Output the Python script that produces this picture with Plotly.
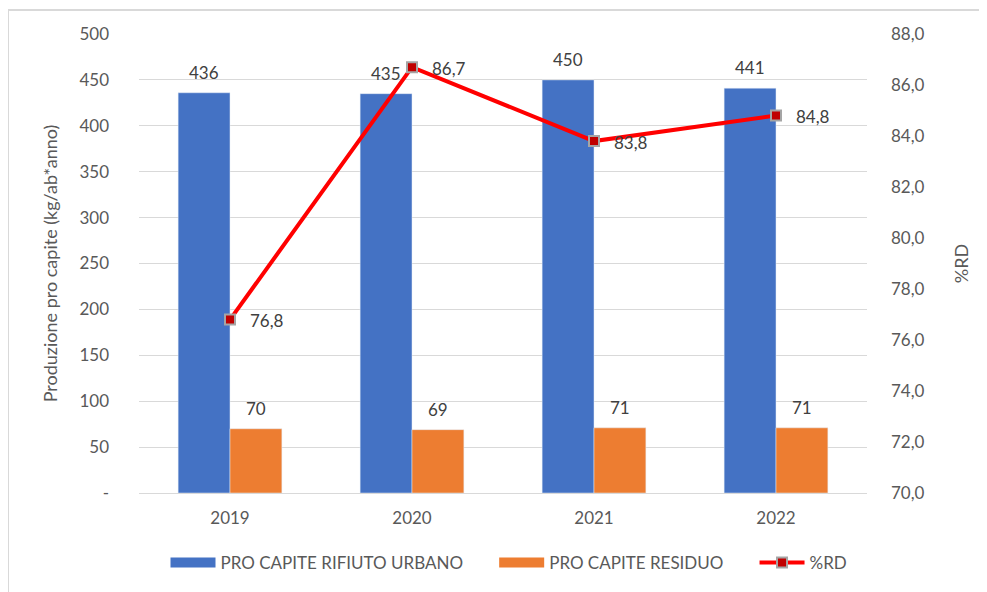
import plotly.graph_objects as go

anni = ['2019', '2020', '2021', '2022']
rifiuto_urbano = [436, 435, 450, 441]
residuo = [70, 69, 71, 71]
perc_rd = [76.8, 86.7, 83.8, 84.8]

tick_sx = [0, 50, 100, 150, 200, 250, 300, 350, 400, 450, 500]
tick_sx_testo = ['-', '50', '100', '150', '200', '250', '300', '350', '400', '450', '500']

GRIGIO_TESTO = '#595959'
FONT = 'Lato, Open Sans, sans-serif'
BLU, ARANCIO, ROSSO = '#4472C4', '#ED7D31', '#FF0000'
NBSP = '\u00a0' * 6  # spazio extra tra le voci di legenda

# la pagina ha 8px di margine nel body: li tolgo da sinistra/alto
ML, MT, PW, PH = 131, 26, 728, 459

fig = go.Figure()

fig.add_trace(go.Bar(x=anni, y=rifiuto_urbano, name='PRO CAPITE RIFIUTO URBANO',
                     marker=dict(color=BLU), showlegend=False))
fig.add_trace(go.Bar(x=anni, y=residuo, name='PRO CAPITE RESIDUO',
                     marker=dict(color=ARANCIO), showlegend=False))

# voci di legenda "a rettangolo" come in Excel
fig.add_trace(go.Scatter(x=[anni[0]], y=[None], mode='lines',
                         name='PRO CAPITE RIFIUTO URBANO' + NBSP,
                         line=dict(color=BLU, width=10)))
fig.add_trace(go.Scatter(x=[anni[0]], y=[None], mode='lines',
                         name='PRO CAPITE RESIDUO' + NBSP,
                         line=dict(color=ARANCIO, width=10)))

fig.add_trace(go.Scatter(
    x=anni, y=perc_rd, name='%RD', yaxis='y2',
    mode='lines+markers',
    line=dict(color=ROSSO, width=4),
    marker=dict(symbol='square', size=10, color='#C00000',
                line=dict(color='#A5A5A5', width=2)),
))

# etichette: x come indice di categoria (le stringhe "2019" verrebbero lette come numeri)
annotazioni = []
for i, v in enumerate(rifiuto_urbano):
    annotazioni.append(dict(x=i, y=v, text=str(v), showarrow=False, xshift=-26,
                            yanchor='bottom', yshift=8,
                            font=dict(size=17, color='#404040')))
for i, v in enumerate(residuo):
    annotazioni.append(dict(x=i, y=v, text=str(v), showarrow=False, xshift=26,
                            yanchor='bottom', yshift=8,
                            font=dict(size=17, color='#404040')))
for i, v in enumerate(perc_rd):
    annotazioni.append(dict(x=i, y=v, yref='y2', text=f'{v:.1f}'.replace('.', ','),
                            showarrow=False, xanchor='left', xshift=18, yshift=-1,
                            font=dict(size=17, color='#404040')))

fig.update_layout(
    width=987, height=592,
    paper_bgcolor='white', plot_bgcolor='white',
    font=dict(family=FONT, size=17, color=GRIGIO_TESTO),
    separators=',.',
    barmode='group', bargap=0.43, bargroupgap=0,
    margin=dict(l=ML, r=987 - ML - PW, t=MT, b=592 - MT - PH, autoexpand=False),
    showlegend=True,
    legend=dict(orientation='h', x=0.5 + 6 / PW, xanchor='center', y=-(555 - MT - PH) / PH,
                yanchor='middle', font=dict(size=17, color=GRIGIO_TESTO),
                traceorder='normal', itemwidth=45),
    annotations=annotazioni,
    xaxis=dict(type='category', categoryorder='array', categoryarray=anni,
               range=[-0.5, len(anni) - 0.5],
               showgrid=False, showline=True, linecolor='#D9D9D9', linewidth=1,
               ticks='', tickfont=dict(size=17, color=GRIGIO_TESTO),
               ticklabelstandoff=10, automargin=False),
    yaxis=dict(range=[0, 500], tickvals=tick_sx, ticktext=tick_sx_testo,
               showgrid=True, gridcolor='#D9D9D9', gridwidth=1, zeroline=False,
               tickfont=dict(size=17, color=GRIGIO_TESTO), ticklabelstandoff=29,
               automargin=False,
               title=dict(text='Produzione pro capite (kg/ab*anno)',
                          font=dict(size=18, color=GRIGIO_TESTO), standoff=17)),
    yaxis2=dict(range=[70, 88], dtick=2, tickformat='.1f', overlaying='y', side='right',
                showgrid=False, zeroline=False, automargin=False,
                tickfont=dict(size=17, color=GRIGIO_TESTO), ticklabelstandoff=23,
                title=dict(text='%RD', font=dict(size=18, color=GRIGIO_TESTO), standoff=31)),
    shapes=[dict(type='rect', xref='paper', yref='paper', layer='below',
                 x0=-ML / PW, x1=1.3, y0=-0.3, y1=1 + (MT - 2) / PH,
                 line=dict(color='#D9D9D9', width=2))],
)

fig.write_html('out.html')
